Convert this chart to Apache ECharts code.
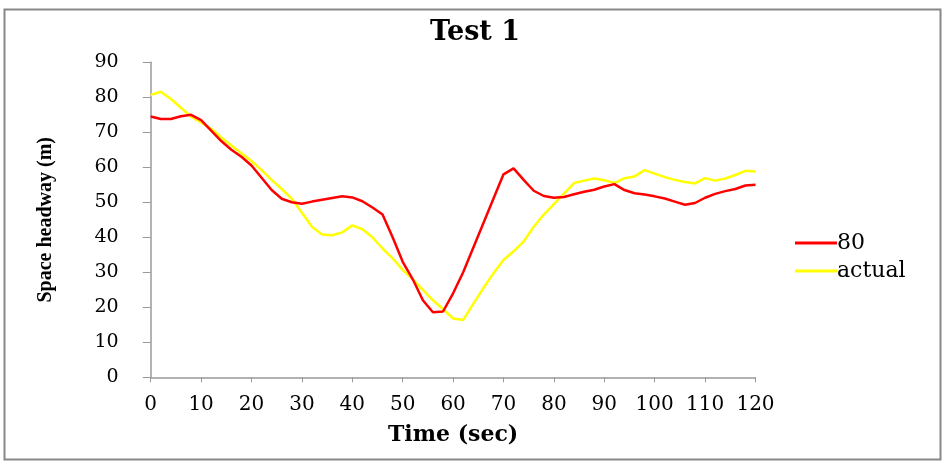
<!DOCTYPE html>
<html>
<head>
<meta charset="utf-8">
<script src="https://cdn.jsdelivr.net/npm/echarts@6/dist/echarts.min.js"></script>
<style>
html,body{margin:0;padding:0;background:#fff;}
#chart{width:946px;height:466px;}
</style>
</head>
<body>
<div id="chart"></div>
<script>
var times = [0,2,4,6,8,10,12,14,16,18,20,22,24,26,28,30,32,34,36,38,40,42,44,46,48,50,52,54,56,58,60,62,64,66,68,70,72,74,76,78,80,82,84,86,88,90,92,94,96,98,100,102,104,106,108,110,112,114,116,118,120];
var series80 = [74.5,73.8,73.8,74.6,75,73.5,70.5,67.5,65,63,60.5,57,53.5,51,50,49.6,50.2,50.7,51.2,51.7,51.4,50.3,48.5,46.5,40,33,28,22,18.6,18.8,24,30,37,44,51,58,59.7,56.4,53.3,51.8,51.3,51.5,52.3,53,53.6,54.5,55.2,53.5,52.6,52.2,51.7,51.1,50.2,49.3,49.8,51.3,52.4,53.2,53.8,54.8,55];
var seriesActual = [80.7,81.6,79.5,77,74.5,72.8,71,68.5,66.2,64,61.8,59.2,56.4,53.8,51,47,43,40.8,40.6,41.4,43.4,42.3,40,36.8,34,30.7,28,25,22,19.5,16.8,16.4,21,25.5,29.7,33.5,36,38.8,43,46.5,49.5,52.5,55.5,56.2,56.8,56.3,55.5,56.9,57.4,59.2,58.2,57.2,56.4,55.8,55.4,56.9,56.2,56.8,57.8,59,58.8];
var seriesNames = ['80','actual'];
var titleText = 'Test 1';
var xName = 'Time (sec)';
var yName = 'Space headway (m)';

function pairs(v){ return times.map(function(t,i){ return [t, v[i]]; }); }

var chart = echarts.init(document.getElementById('chart'), null, {renderer:'canvas'});
var serif = 'DejaVu Serif';
chart.setOption({
  animation:false,
  backgroundColor:'#fff',
  graphic:[{type:'rect', shape:{x:4.5,y:9.5,width:936,height:450}, style:{fill:'none', stroke:'#888', lineWidth:2}, silent:true}],
  title:{text:titleText, left:470, textAlign:'center', top:14, textStyle:{fontFamily:serif, fontWeight:'bold', fontSize:27, color:'#000'}},
  legend:{orient:'vertical', left:790, top:227, itemWidth:42, itemHeight:3, itemGap:6, icon:'rect',
    textStyle:{fontFamily:serif, fontSize:22, color:'#000', padding:[0,0,0,-5]}, data:seriesNames},
  grid:{left:150.7, right:190.5, top:62.3, bottom:88.7},
  xAxis:{type:'value', min:0, max:120, interval:10, name:xName, nameLocation:'middle', nameGap:47,
    nameTextStyle:{fontFamily:serif, fontWeight:'bold', fontSize:22, color:'#000'},
    axisLine:{lineStyle:{color:'#999', width:1.5}}, axisTick:{show:true, length:5, lineStyle:{color:'#999'}},
    axisLabel:{fontFamily:serif, fontSize:20, color:'#000', margin:17}, splitLine:{show:false}},
  yAxis:{type:'value', min:0, max:90, interval:10, name:yName, nameLocation:'middle', nameGap:95,
    nameTextStyle:{fontFamily:'Liberation Serif', fontWeight:'bold', fontSize:20, color:'#000'},
    axisLine:{show:true, lineStyle:{color:'#999', width:1.5}}, axisTick:{show:true, length:8, lineStyle:{color:'#999'}},
    axisLabel:{fontFamily:serif, fontSize:19, color:'#000', margin:32}, splitLine:{show:false}},
  series:[
    {name:seriesNames[0], type:'line', data:pairs(series80), showSymbol:false, symbol:'none', lineStyle:{color:'#ff0000', width:2.5}, itemStyle:{color:'#ff0000'}, z:3},
    {name:seriesNames[1], type:'line', data:pairs(seriesActual), showSymbol:false, symbol:'none', lineStyle:{color:'#ffff00', width:2.5}, itemStyle:{color:'#ffff00'}, z:2}
  ]
});
</script>
</body>
</html>
